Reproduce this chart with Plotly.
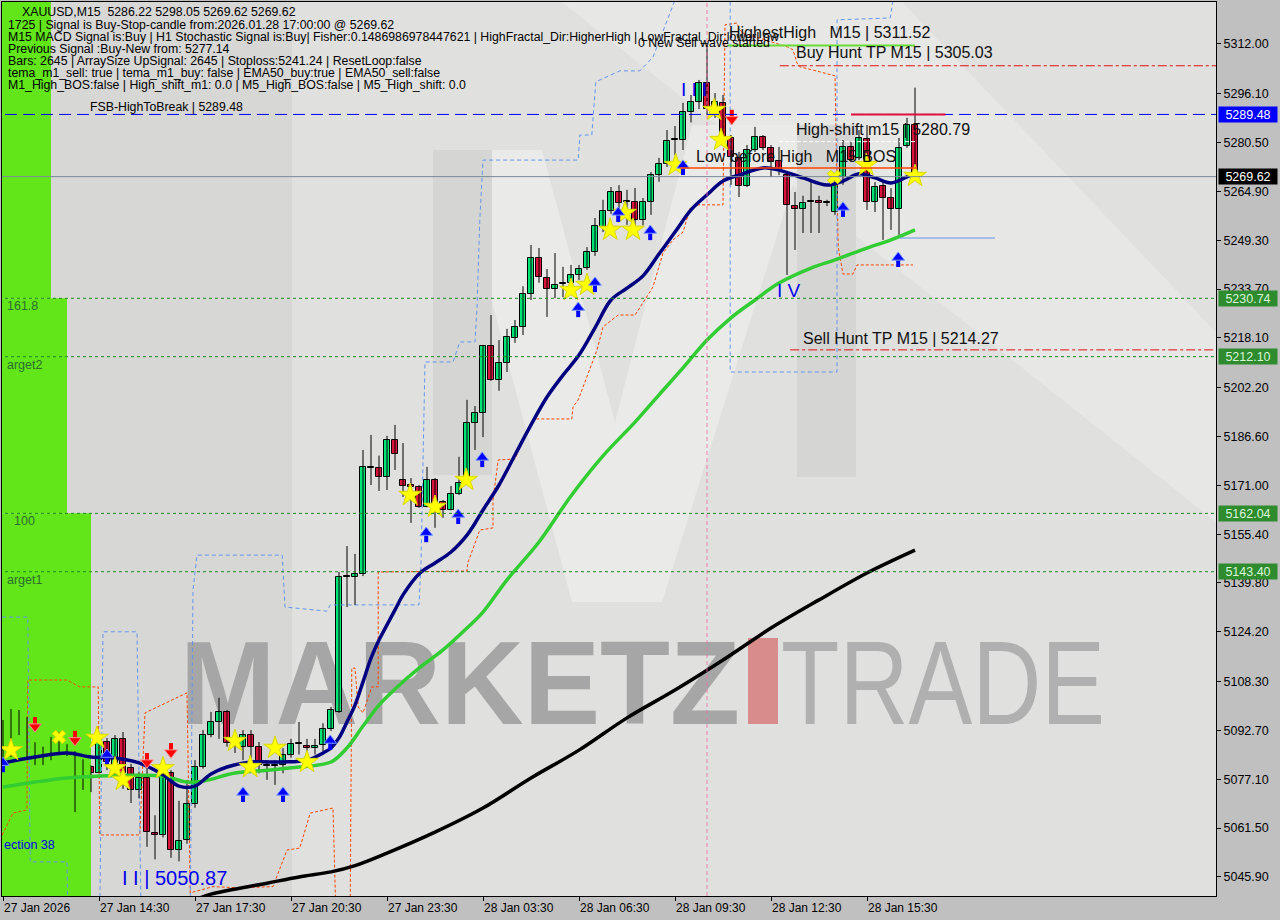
import base64
import plotly.graph_objects as go

# ---------------- candle data (XAUUSD M15) ----------------
opens = [5088.0, 5085.5, 5098.3, 5096.7, 5087.4, 5084.5, 5086.1, 5089.9, 5087.1, 5085.8,
         5077.2, 5081.0, 5079.1, 5089.0, 5079.1, 5090.0, 5080.6, 5073.7, 5077.5, 5060.0,
         5059.4, 5079.1, 5054.5, 5057.7, 5069.2, 5081.0, 5091.2, 5095.4, 5098.6, 5087.7,
         5087.4, 5091.2, 5087.4, 5081.3, 5081.3, 5081.6, 5084.8, 5088.3, 5087.7, 5087.1,
         5088.0, 5093.1, 5098.6, 5141.7, 5141.7, 5142.7, 5176.6, 5176.6, 5173.7, 5185.5,
         5172.7, 5171.1, 5170.5, 5164.1, 5172.7, 5165.7, 5163.1, 5168.2, 5171.8, 5190.9,
         5194.1, 5215.5, 5204.7, 5210.1, 5218.1, 5221.6, 5232.1, 5243.6, 5237.3, 5233.7,
         5235.3, 5235.6, 5238.2, 5240.4, 5245.5, 5253.5, 5258.6, 5264.7, 5261.5, 5261.5,
         5255.8, 5261.5, 5270.1, 5273.7, 5281.3, 5281.3, 5290.3, 5293.5, 5299.5, 5290.0,
         5293.2, 5282.0, 5275.6, 5266.6, 5278.1, 5282.3, 5278.8, 5274.6, 5270.1, 5260.2,
         5259.3, 5261.5, 5261.8, 5261.2, 5258.3, 5269.5, 5279.1, 5275.6, 5281.6, 5261.5,
         5266.6, 5262.8, 5259.3, 5279.4, 5286.22]
highs = [5096.0, 5099.5, 5099.2, 5097.0, 5088.9, 5087.5, 5090.6, 5092.2, 5088.3, 5086.1,
         5083.5, 5081.5, 5090.3, 5090.3, 5091.2, 5092.2, 5082.0, 5079.5, 5083.2, 5065.6,
         5079.5, 5080.0, 5070.2, 5076.9, 5083.2, 5092.8, 5098.6, 5103.1, 5099.2, 5092.0,
         5092.8, 5092.8, 5089.0, 5083.2, 5083.2, 5087.0, 5090.0, 5095.4, 5090.0, 5090.0,
         5095.0, 5100.2, 5143.3, 5151.6, 5149.1, 5182.3, 5187.1, 5180.5, 5186.8, 5190.3,
         5184.5, 5173.3, 5171.1, 5176.9, 5173.3, 5166.3, 5170.8, 5180.1, 5198.3, 5196.3,
         5215.8, 5225.4, 5217.4, 5221.0, 5223.8, 5234.6, 5247.8, 5246.8, 5240.1, 5245.2,
         5240.8, 5241.4, 5241.4, 5247.1, 5256.4, 5262.2, 5266.3, 5266.9, 5265.4, 5266.0,
         5262.8, 5271.1, 5275.6, 5284.5, 5285.8, 5293.2, 5295.7, 5300.5, 5311.52, 5296.3,
         5295.7, 5282.9, 5277.5, 5279.7, 5285.5, 5282.9, 5279.7, 5279.1, 5270.8, 5264.7,
         5263.5, 5267.9, 5263.5, 5262.2, 5270.8, 5281.3, 5280.7, 5284.5, 5286.1, 5267.9,
         5267.9, 5265.9, 5282.0, 5288.4, 5298.05]
lows = [5083.2, 5084.2, 5091.2, 5084.2, 5081.6, 5081.6, 5083.2, 5084.8, 5084.5, 5066.6,
        5073.7, 5073.0, 5079.1, 5080.0, 5078.0, 5074.0, 5069.5, 5071.0, 5055.5, 5051.5,
        5058.5, 5052.0, 5050.87, 5056.5, 5068.0, 5080.5, 5090.5, 5090.0, 5087.5, 5085.5,
        5083.2, 5083.0, 5079.0, 5076.9, 5075.3, 5079.0, 5084.0, 5085.0, 5085.0, 5085.0,
        5086.0, 5092.5, 5098.3, 5132.1, 5132.8, 5142.0, 5171.1, 5169.2, 5169.5, 5175.9,
        5167.3, 5159.0, 5163.8, 5164.0, 5157.4, 5160.6, 5163.0, 5167.9, 5171.4, 5182.3,
        5186.4, 5204.4, 5201.2, 5207.2, 5216.5, 5219.0, 5230.2, 5235.7, 5224.8, 5230.8,
        5231.1, 5232.0, 5236.6, 5239.8, 5244.3, 5251.9, 5257.7, 5257.4, 5254.2, 5253.2,
        5254.0, 5257.4, 5268.0, 5272.7, 5276.5, 5278.1, 5286.9, 5291.2, 5289.3, 5288.4,
        5280.4, 5267.0, 5263.1, 5266.3, 5277.5, 5278.1, 5269.5, 5270.1, 5238.2, 5246.2,
        5251.6, 5251.6, 5251.6, 5260.2, 5257.4, 5267.0, 5274.3, 5274.9, 5259.0, 5258.3,
        5249.4, 5252.6, 5251.0, 5278.8, 5269.62]
closes = [5088.1, 5098.6, 5096.7, 5085.2, 5084.2, 5086.1, 5090.3, 5087.1, 5085.8, 5077.2,
          5081.0, 5079.1, 5088.6, 5082.6, 5090.0, 5079.1, 5073.7, 5077.5, 5060.2, 5059.4,
          5077.8, 5054.5, 5057.4, 5069.2, 5081.0, 5091.2, 5095.4, 5098.6, 5088.6, 5089.3,
          5091.2, 5087.4, 5081.6, 5081.4, 5081.4, 5084.8, 5088.3, 5088.4, 5087.1, 5087.7,
          5093.1, 5099.2, 5141.7, 5141.8, 5142.7, 5176.9, 5176.7, 5173.7, 5185.5, 5181.0,
          5170.8, 5170.5, 5164.1, 5172.7, 5165.4, 5163.1, 5168.2, 5171.8, 5190.9, 5194.1,
          5215.5, 5204.7, 5210.1, 5218.4, 5221.6, 5232.1, 5243.6, 5237.6, 5233.7, 5235.0,
          5235.4, 5238.2, 5240.2, 5245.5, 5253.9, 5258.6, 5264.7, 5261.2, 5261.6, 5255.8,
          5261.5, 5270.1, 5273.7, 5281.0, 5281.4, 5290.3, 5293.5, 5299.5, 5291.2, 5293.5,
          5282.0, 5275.9, 5266.6, 5278.1, 5282.3, 5278.8, 5274.3, 5271.7, 5260.6, 5259.3,
          5261.2, 5261.6, 5261.2, 5261.3, 5267.0, 5279.1, 5274.9, 5282.0, 5261.5, 5266.3,
          5262.8, 5259.3, 5278.8, 5286.1, 5269.62]
bars = list(range(len(opens)))

x_tick_idx = [0, 12, 24, 36, 48, 60, 72, 84, 96, 108]
x_tick_text = ["27 Jan 2026", "27 Jan 14:30", "27 Jan 17:30", "27 Jan 20:30", "27 Jan 23:30",
               "28 Jan 03:30", "28 Jan 06:30", "28 Jan 09:30", "28 Jan 12:30", "28 Jan 15:30"]
y_tick_vals = [5312.00, 5296.10, 5280.50, 5264.90, 5249.30, 5233.70, 5218.10, 5202.20, 5186.60,
               5171.00, 5155.40, 5139.80, 5124.20, 5108.30, 5092.70, 5077.10, 5061.50, 5045.90]

# ---------------- moving averages ----------------
ema_blue_idx = [0, 4, 8, 11, 14, 17, 20, 22, 24, 26, 28, 31, 35, 38, 40, 41, 42, 43, 44, 45,
                46, 47, 48, 49, 50, 52, 54, 56, 58, 59, 60, 62, 64, 66, 68, 70, 72, 74, 76, 78,
                80, 82, 84, 86, 88, 90, 92, 95, 97, 100, 103, 105, 107, 109, 111, 113, 114]
ema_blue = [5082.3, 5084.2, 5085.5, 5084.2, 5083.9, 5082.3, 5078.5, 5074.9, 5074.9, 5078.8,
            5081.0, 5082.6, 5082.6, 5083.2, 5085.5, 5087.1, 5090.3, 5095.4, 5100.8, 5108.2,
            5115.8, 5121.6, 5126.4, 5131.2, 5136.0, 5142.7, 5146.2, 5149.7, 5155.1, 5158.9,
            5163.1, 5171.1, 5180.7, 5190.3, 5199.2, 5206.2, 5212.6, 5221.3, 5230.2, 5234.0,
            5237.9, 5244.9, 5251.9, 5259.0, 5263.8, 5268.2, 5270.1, 5272.4, 5271.7, 5269.2,
            5266.9, 5268.2, 5270.5, 5269.2, 5267.6, 5269.5, 5270.5]
ema_green_idx = [0, 4, 8, 12, 16, 20, 23, 25, 29, 33, 37, 41, 43, 45, 47, 49, 52, 55, 58, 60,
                 63, 67, 71, 75, 79, 82, 85, 88, 91, 94, 97, 101, 104, 108, 111, 114]
ema_green = [5074.6, 5076.2, 5077.5, 5078.1, 5078.4, 5078.1, 5076.2, 5076.5, 5079.1, 5080.0,
             5081.0, 5082.6, 5087.1, 5094.1, 5100.8, 5105.9, 5112.6, 5118.4, 5125.4, 5130.5,
             5140.8, 5152.9, 5167.6, 5180.4, 5191.2, 5199.9, 5208.5, 5217.4, 5224.5, 5230.2,
             5235.6, 5240.4, 5243.0, 5246.8, 5249.4, 5252.6]
ema_black_idx = [24, 26, 33, 37, 41, 44, 48, 54, 60, 66, 72, 78, 84, 90, 96, 102, 108, 114]
ema_black = [5038.5, 5040.4, 5043.9, 5045.9, 5047.5, 5049.5, 5053.5, 5060.2, 5067.9, 5077.5,
             5086.4, 5096.7, 5105.6, 5115.2, 5125.4, 5134.4, 5143.0, 5150.3]

# ---------------- step channels ----------------
orange_idx = [-0.1, 1.25, 3.0, 3.1, 8.0, 9.6, 11.9, 12.1, 17.1, 17.75, 23.0, 23.4, 26.25, 29.6,
              33.75, 35.5, 37.1, 38.4, 41.25, 41.6, 43.4, 43.6, 44.0, 44.4, 45.0, 46.1, 46.9,
              46.9, 58.0, 58.1, 59.6, 61.25, 61.25, 61.9, 64.0, 64.6, 66.25, 71.1, 71.25, 71.9,
              74.25, 75.0, 76.9, 79.0, 80.0, 81.25, 82.5, 83.75, 85.0, 85.9, 86.9, 90.0, 90.25,
              91.75, 92.1, 92.5, 98.1, 98.75, 99.25, 99.6, 102.1, 103.75, 104.0, 104.4, 105.0,
              106.25, 106.75, 113.75]
orange_val = [5059.3, 5066.3, 5067.3, 5108.8, 5108.8, 5106.6, 5106.6, 5059.3, 5059.3, 5098.3,
              5104.7, 5040.8, 5042.8, 5042.4, 5042.8, 5054.5, 5055.1, 5066.3, 5067.9, 5035.0,
              5035.0, 5112.6, 5112.6, 5100.2, 5098.3, 5106.6, 5106.6, 5143.3, 5143.6, 5146.2,
              5156.7, 5157.4, 5166.3, 5179.1, 5179.4, 5183.2, 5192.2, 5192.2, 5196.0, 5198.3,
              5214.2, 5221.6, 5225.4, 5225.4, 5229.3, 5234.4, 5245.2, 5249.4, 5251.9, 5259.6,
              5260.6, 5260.6, 5318.1, 5318.7, 5316.5, 5315.5, 5311.0, 5310.1, 5305.9, 5304.7,
              5303.1, 5301.8, 5301.8, 5247.1, 5238.5, 5238.5, 5241.4, 5241.4]
blue_idx = [-0.1, 3.1, 3.4, 8.0, 8.1, None,
            12.1, 12.5, 16.75, 17.25, None,
            23.4, 23.75, 24.25, 34.9, 35.25, 40.5, 40.9, 52.0, 52.25, 52.75, 56.25, 57.1, 59.0,
            59.25, 59.6, 60.0, 71.9, 72.1, 73.6, 74.1, 77.1, 79.6, 81.25, 83.0, 84.6, None,
            90.9, 90.9, 104.25, 104.25, 110.9, 111.5]
blue_val = [5128.9, 5128.9, 5050.7, 5050.7, 5035.0, None,
            5035.0, 5124.2, 5124.2, 5035.0, None,
            5035.0, 5137.6, 5148.7, 5148.7, 5132.1, 5130.8, 5132.8, 5132.8, 5146.2, 5210.4,
            5210.4, 5216.8, 5216.8, 5227.7, 5255.8, 5274.9, 5274.9, 5282.9, 5282.9, 5299.9,
            5303.4, 5303.4, 5307.8, 5319.7, 5330.0, None,
            5330.0, 5207.2, 5207.2, 5319.7, 5320.3, 5330.0]

# ---------------- signal markers ----------------
star_idx = [1.0, 11.75, 14.0, 15.0, 20.0, 29.0, 30.9, 34.0, 38.0, 50.9, 54.0, 57.9, 71.0, 73.0,
            75.9, 77.75, 78.75, 84.1, 88.9, 89.75, 107.9, 114.0]
star_val = [5086.4, 5090.3, 5080.6, 5076.9, 5080.6, 5089.3, 5081.0, 5087.1, 5082.6, 5167.9,
            5164.1, 5172.7, 5233.4, 5235.0, 5252.6, 5258.0, 5252.6, 5273.3, 5290.9, 5281.3,
            5273.3, 5269.8]
cross_idx = [7.0, 103.9]
cross_val = [5090.6, 5269.5]
up_idx = [0.0, 13.0, 30.0, 35.0, 40.9, 52.9, 56.9, 59.9, 71.9, 74.0, 76.9, 80.9, 85.0, 105.0, 111.9]
up_val = [5081.6, 5084.2, 5072.1, 5072.1, 5088.7, 5155.1, 5160.9, 5179.1, 5227.0, 5235.0,
          5257.4, 5251.6, 5272.4, 5259.0, 5243.0]
down_idx = [4.0, 9.0, 18.0, 21.0, 91.1]
down_val = [5094.7, 5090.3, 5083.2, 5086.4, 5288.7]

# ---------------- levels ----------------
fsb_high = 5289.48
bid = 5269.62
fib_levels = [5230.74, 5212.10, 5162.04, 5143.40]
buy_tp = 5305.03
sell_tp = 5214.27
highest_high = 5311.52
high_shift = 5280.79
low_before_high = 5272.4
stop_level = 5250.0
zone_right = [6.0, 8.0, 11.0]   # bar index where each green zone ends (top, middle, bottom)

info_lines = [
    "1725 | Signal is Buy-Stop-candle from:2026.01.28 17:00:00 @ 5269.62",
    "M15 MACD Signal is:Buy | H1 Stochastic Signal is:Buy| Fisher:0.1486986978447621 | HighFractal_Dir:HigherHigh | LowFractal_Dir:lowerLow",
    "Previous Signal :Buy-New from: 5277.14",
    "Bars: 2645 | ArraySize UpSignal: 2645 | Stoploss:5241.24 | ResetLoop:false",
    "tema_m1_sell: true | tema_m1_buy: false | EMA50_buy:true | EMA50_sell:false",
    "M1_High_BOS:false | High_shift_m1: 0.0 | M5_High_BOS:false | M5_High_shift: 0.0",
]

# ---------------- figure ----------------
FONT = "Liberation Sans, Arial, sans-serif"
X0, X1 = -0.125, 151.625
Y0, Y1 = 5039.8, 5325.4
PW, PH = 1214, 894
PPU = PH / (Y1 - Y0)  # pixels per price unit (for small glyph offsets)


def PX(x):
    return (x - 2) / PW


def PY(y):
    return 1 - (y - 2) / PH


fig = go.Figure()

# green zones on the left (as filled traces so they sit above the watermark, below candles)
zone_green = "#62E61A"
zone_bounds = [(fib_levels[0], Y1 + 20), (fib_levels[2], fib_levels[0]), (Y0 - 20, fib_levels[2])]
for xr, (ya, yb) in zip(zone_right, zone_bounds):
    fig.add_trace(go.Scatter(x=[-2, xr, xr, -2, -2], y=[ya, ya, yb, yb, ya], mode="lines",
                             fill="toself", fillcolor=zone_green, line=dict(width=0, color=zone_green),
                             hoverinfo="skip"))

# channels
fig.add_trace(go.Scatter(x=orange_idx, y=orange_val, mode="lines",
                         line=dict(color="#FF4500", width=1, dash="3px,2px"), hoverinfo="skip"))
fig.add_trace(go.Scatter(x=blue_idx, y=blue_val, mode="lines", connectgaps=False,
                         line=dict(color="#6495ED", width=1, dash="4px,3px"), hoverinfo="skip"))

# wicks
wx, wy = [], []
for i in bars:
    wx += [i, i, None]
    wy += [lows[i], highs[i], None]
fig.add_trace(go.Scatter(x=wx, y=wy, mode="lines", line=dict(color="black", width=1), hoverinfo="skip"))

# bodies
body_base = [min(o, c) for o, c in zip(opens, closes)]
body_h = [max(abs(c - o), 0.35) for o, c in zip(opens, closes)]
body_col = ["#00E676" if c >= o else "#DC143C" for o, c in zip(opens, closes)]
fig.add_trace(go.Bar(x=bars, y=body_h, base=body_base, width=0.74,
                     marker=dict(color=body_col, line=dict(color="black", width=1)), hoverinfo="skip"))

# moving averages
fig.add_trace(go.Scatter(x=ema_black_idx, y=ema_black, mode="lines", line=dict(color="black", width=3.5, shape="spline")))
fig.add_trace(go.Scatter(x=ema_green_idx, y=ema_green, mode="lines", line=dict(color="#32CD32", width=3.5, shape="spline")))
fig.add_trace(go.Scatter(x=ema_blue_idx, y=ema_blue, mode="lines", line=dict(color="#000080", width=3.5, shape="spline")))

# markers
fig.add_trace(go.Scatter(x=star_idx, y=star_val, mode="markers",
                         marker=dict(symbol="star", size=17, color="#FFFF00", line=dict(color="#D8D800", width=1))))
fig.add_trace(go.Scatter(x=cross_idx, y=cross_val, mode="markers",
                         marker=dict(symbol="x", size=12, color="#FFFF00", line=dict(color="#D8D800", width=1))))
fig.add_trace(go.Scatter(x=up_idx, y=[v - 2.2 / PPU for v in up_val], mode="markers",
                         marker=dict(symbol="line-ns", size=7, line=dict(color="#0000FF", width=4))))
fig.add_trace(go.Scatter(x=up_idx, y=[v + 2.5 / PPU for v in up_val], mode="markers",
                         marker=dict(symbol="triangle-up", size=11, color="#0000FF", line=dict(color="#7A9AFF", width=1))))
fig.add_trace(go.Scatter(x=down_idx, y=[v + 2.2 / PPU for v in down_val], mode="markers",
                         marker=dict(symbol="line-ns", size=7, line=dict(color="#FF0000", width=4))))
fig.add_trace(go.Scatter(x=down_idx, y=[v - 2.5 / PPU for v in down_val], mode="markers",
                         marker=dict(symbol="triangle-down", size=11, color="#FF0000", line=dict(color="#FF8C8C", width=1))))

shapes = []
for lv in fib_levels:
    shapes.append(dict(type="line", xref="x", yref="y", x0=-2, x1=160, y0=lv, y1=lv,
                       line=dict(color="#1E8A1E", width=1, dash="3px,3px")))
shapes.append(dict(type="line", xref="x", yref="y", x0=-2, x1=160, y0=fsb_high, y1=fsb_high,
                   line=dict(color="#0000FF", width=1, dash="12px,6px")))
shapes.append(dict(type="line", xref="x", yref="y", x0=-2, x1=160, y0=bid, y1=bid,
                   line=dict(color="#7A8A9A", width=1)))
shapes.append(dict(type="line", xref="x", yref="y", x0=97.1, x1=160, y0=buy_tp, y1=buy_tp,
                   line=dict(color="#E01010", width=1, dash="dashdot")))
shapes.append(dict(type="line", xref="x", yref="y", x0=98.4, x1=160, y0=sell_tp, y1=sell_tp,
                   line=dict(color="#E01010", width=1, dash="dashdot")))
shapes.append(dict(type="line", xref="x", yref="y", x0=90.6, x1=114, y0=highest_high, y1=highest_high,
                   line=dict(color="#66DD33", width=2)))
shapes.append(dict(type="line", xref="x", yref="y", x0=106.0, x1=117.8, y0=fsb_high, y1=fsb_high,
                   line=dict(color="#E0103C", width=2)))
shapes.append(dict(type="line", xref="x", yref="y", x0=84.6, x1=114.2, y0=low_before_high, y1=low_before_high,
                   line=dict(color="#FF4500", width=1.5)))
shapes.append(dict(type="line", xref="x", yref="y", x0=97.0, x1=114.0, y0=high_shift, y1=high_shift,
                   line=dict(color="#FFFFFF", width=1, dash="4px,2px")))
shapes.append(dict(type="line", xref="x", yref="y", x0=112.1, x1=124.0, y0=stop_level, y1=stop_level,
                   line=dict(color="#6495ED", width=1)))
shapes.append(dict(type="line", xref="x", yref="paper", x0=88, x1=88, y0=0, y1=1,
                   line=dict(color="rgba(240,110,170,0.85)", width=1, dash="4px,3px")))

annotations = []
INFO = 12.3
annotations.append(dict(xref="paper", yref="paper", x=PX(20), y=PY(12), xanchor="left", yanchor="middle",
                        text="XAUUSD,M15  5286.22 5298.05 5269.62 5269.62", showarrow=False,
                        font=dict(family=FONT, size=INFO, color="black")))
for k, line in enumerate(info_lines):
    annotations.append(dict(xref="paper", yref="paper", x=PX(6), y=PY(25 + 12 * k), xanchor="left",
                            yanchor="middle", text=line, showarrow=False,
                            font=dict(family=FONT, size=INFO, color="black")))
annotations.append(dict(xref="paper", yref="paper", x=PX(636), y=PY(43), xanchor="left", yanchor="middle",
                        text="0 New Sell wave started", showarrow=False,
                        font=dict(family=FONT, size=INFO, color="black")))
annotations.append(dict(xref="paper", yref="paper", x=PX(88), y=PY(107), xanchor="left", yanchor="middle",
                        text="FSB-HighToBreak | 5289.48", showarrow=False,
                        font=dict(family=FONT, size=INFO, color="black")))
big_labels = [
    (727, 33, "HighestHigh   M15 | 5311.52"),
    (794, 53, "Buy Hunt TP M15 | 5305.03"),
    (794, 129, "High-shift m15 | 5280.79"),
    (694, 157, "Low before High   M15-BOS"),
    (801, 338, "Sell Hunt TP M15 | 5214.27"),
]
for bx, by, t in big_labels:
    annotations.append(dict(xref="paper", yref="paper", x=PX(bx), y=PY(by), xanchor="left", yanchor="middle",
                            text=t, showarrow=False, font=dict(family=FONT, size=16, color="#111111")))
annotations.append(dict(xref="paper", yref="paper", x=PX(679), y=PY(89), xanchor="left", yanchor="middle",
                        text="I I I", showarrow=False, font=dict(family=FONT, size=19, color="#0000EE")))
annotations.append(dict(xref="paper", yref="paper", x=PX(775), y=PY(290), xanchor="left", yanchor="middle",
                        text="I V", showarrow=False, font=dict(family=FONT, size=19, color="#0000EE")))
annotations.append(dict(xref="paper", yref="paper", x=PX(120), y=PY(878), xanchor="left", yanchor="middle",
                        text="I I | 5050.87", showarrow=False, font=dict(family=FONT, size=20, color="#0000EE")))
for fx, fy, t, col in [(5, 306, "161.8", "#2C6E2C"), (5, 365, "arget2", "#2C6E2C"),
                       (12, 521, "100", "#2C6E2C"), (5, 580, "arget1", "#2C6E2C"),
                       (2, 845, "ection 38", "#0000EE")]:
    annotations.append(dict(xref="paper", yref="paper", x=PX(fx), y=PY(fy), xanchor="left", yanchor="middle",
                            text=t, showarrow=False, font=dict(family=FONT, size=12.5, color=col)))
for xi, t in zip(x_tick_idx, x_tick_text):
    annotations.append(dict(xref="x", yref="paper", x=xi, y=0, xanchor="left", yanchor="top", yshift=-3,
                            xshift=-1, text=t, showarrow=False, font=dict(family=FONT, size=12, color="black")))
for val, bg, fg in [(fsb_high, "#0000FF", "#FFFFFF"), (bid, "#000000", "#FFFFFF"),
                    (fib_levels[0], "#2E8B2E", "#D8F5D8"), (fib_levels[1], "#2E8B2E", "#D8F5D8"),
                    (fib_levels[2], "#2E8B2E", "#D8F5D8"), (fib_levels[3], "#2E8B2E", "#D8F5D8")]:
    annotations.append(dict(xref="paper", yref="y", x=1, y=val, xanchor="left", yanchor="middle", xshift=2,
                            text=f"{val:.2f}", showarrow=False, bgcolor=bg, width=56, height=13,
                            font=dict(family=FONT, size=12.5, color=fg)))

# background watermark (drawn under the candles)
svg = f'''<svg xmlns="http://www.w3.org/2000/svg" width="{PW}" height="{PH}" viewBox="0 0 {PW} {PH}">
<rect x="0" y="0" width="{PW}" height="{PH}" fill="#D7D7D5"/>
<rect x="290" y="0" width="{PW-290}" height="{PH}" fill="#E0E0DE"/>
<polygon points="560,0 900,0 1214,330 1214,520" fill="#E7E7E5"/>
<rect x="431" y="148" width="59" height="325" fill="#D5D5D3"/>
<rect x="795" y="123" width="59" height="352" fill="#D5D5D3"/>
<polygon points="490,148 540,148 613,420 690,123 795,123 795,170 660,600 570,600 490,300" fill="#EAEAE8"/>
<text x="178" y="722" font-family="Liberation Sans, Arial" font-weight="bold" font-size="118" fill="#A6A6A6" textLength="560" lengthAdjust="spacingAndGlyphs">MARKETZ</text>
<rect x="746" y="636" width="30" height="86" fill="#D88C8C"/>
<text x="779" y="722" font-family="Liberation Sans Narrow, Liberation Sans, Arial" font-size="118" fill="#B0B0B0" textLength="324" lengthAdjust="spacingAndGlyphs">TRADE</text>
</svg>'''
src = "data:image/svg+xml;base64," + base64.b64encode(svg.encode("utf-8")).decode("ascii")

fig.update_layout(
    width=1280, height=920,
    margin=dict(l=2, r=64, t=2, b=24),
    paper_bgcolor="#C0C0C0", plot_bgcolor="#D7D7D5",
    showlegend=False, bargap=0, hovermode=False,
    shapes=shapes, annotations=annotations,
    images=[dict(source=src, xref="x", yref="y", x=X0, y=Y1, sizex=X1 - X0, sizey=Y1 - Y0,
                 sizing="stretch", xanchor="left", yanchor="top", layer="below")],
    xaxis=dict(range=[X0, X1], showgrid=False, zeroline=False, showline=True, linecolor="black",
               linewidth=1, mirror=True, ticks="outside", ticklen=4, tickcolor="black",
               tickvals=x_tick_idx, showticklabels=False, fixedrange=True),
    yaxis=dict(range=[Y0, Y1], side="right", showgrid=False, zeroline=False, showline=True,
               linecolor="black", linewidth=1, mirror=True, ticks="outside", ticklen=4,
               tickcolor="black", tickvals=y_tick_vals, ticktext=[f"{v:.2f}" for v in y_tick_vals],
               tickfont=dict(family=FONT, size=12.5, color="black"), fixedrange=True),
)

fig.write_html("out.html", config={"displayModeBar": False},
               post_script="document.body.style.margin='0';document.body.style.overflow='hidden';")
